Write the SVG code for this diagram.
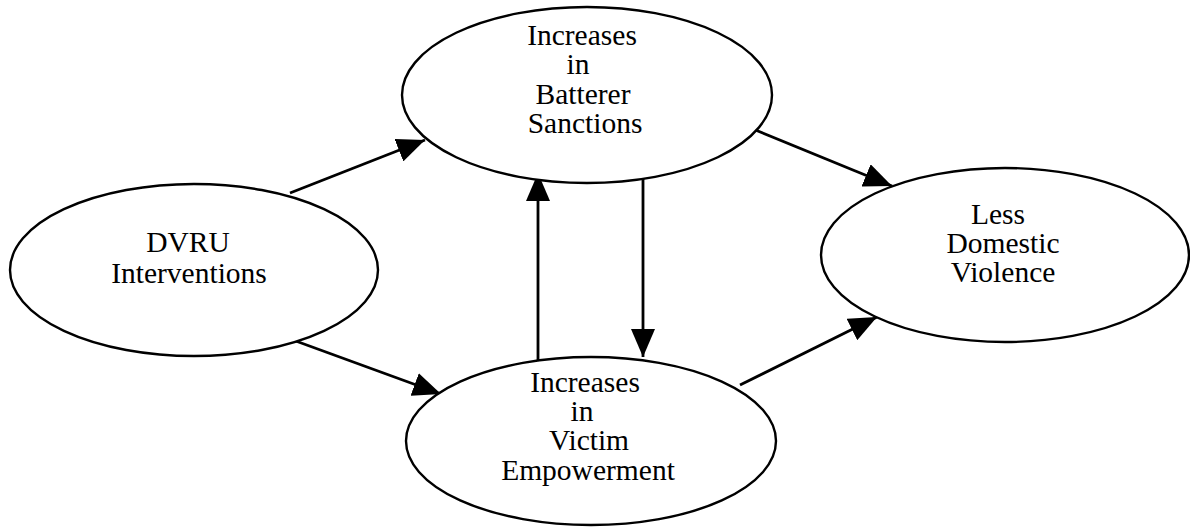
<svg xmlns="http://www.w3.org/2000/svg" width="1190" height="529" viewBox="0 0 1190 529">
<style>
.node ellipse{fill:#fff;stroke:#000;stroke-width:2.4}
.node text{font-family:"Liberation Serif","Times New Roman",serif;font-size:29.5px;fill:#000;text-anchor:middle}
.conn line{stroke:#000;stroke-width:2.8;marker-end:url(#ah)}
</style>
<defs>
<marker id="ah" viewBox="0 0 28 24" refX="28" refY="12" markerWidth="28" markerHeight="24" markerUnits="userSpaceOnUse" orient="auto">
<path d="M0,0 L28,12 L0,24 z" fill="#000"/>
</marker>
</defs>
<rect width="1190" height="529" fill="#fff"/>
<g id="connectors" class="conn">
<line x1="290" y1="193" x2="425" y2="140"/>
<line x1="293" y1="340" x2="441" y2="394"/>
<line x1="538" y1="360" x2="538" y2="173"/>
<line x1="643" y1="177" x2="643" y2="357"/>
<line x1="753" y1="129" x2="892" y2="186"/>
<line x1="740" y1="385" x2="877" y2="317"/>
</g>
<g id="dvru" class="node">
<ellipse cx="194" cy="270" rx="184" ry="86"/>
<text x="188" y="252">DVRU</text>
<text x="189" y="283">Interventions</text>
</g>
<g id="batterer" class="node">
<ellipse cx="587" cy="95" rx="185" ry="88"/>
<text x="582" y="45">Increases</text>
<text x="578" y="74">in</text>
<text x="583" y="104">Batterer</text>
<text x="585" y="133">Sanctions</text>
</g>
<g id="victim" class="node">
<ellipse cx="591" cy="441" rx="185" ry="84"/>
<text x="585" y="392">Increases</text>
<text x="582" y="421">in</text>
<text x="589" y="450">Victim</text>
<text x="588" y="480">Empowerment</text>
</g>
<g id="ldv" class="node">
<ellipse cx="1005" cy="255" rx="184" ry="87"/>
<text x="998" y="224">Less</text>
<text x="1003" y="253">Domestic</text>
<text x="1003" y="282">Violence</text>
</g>
</svg>
